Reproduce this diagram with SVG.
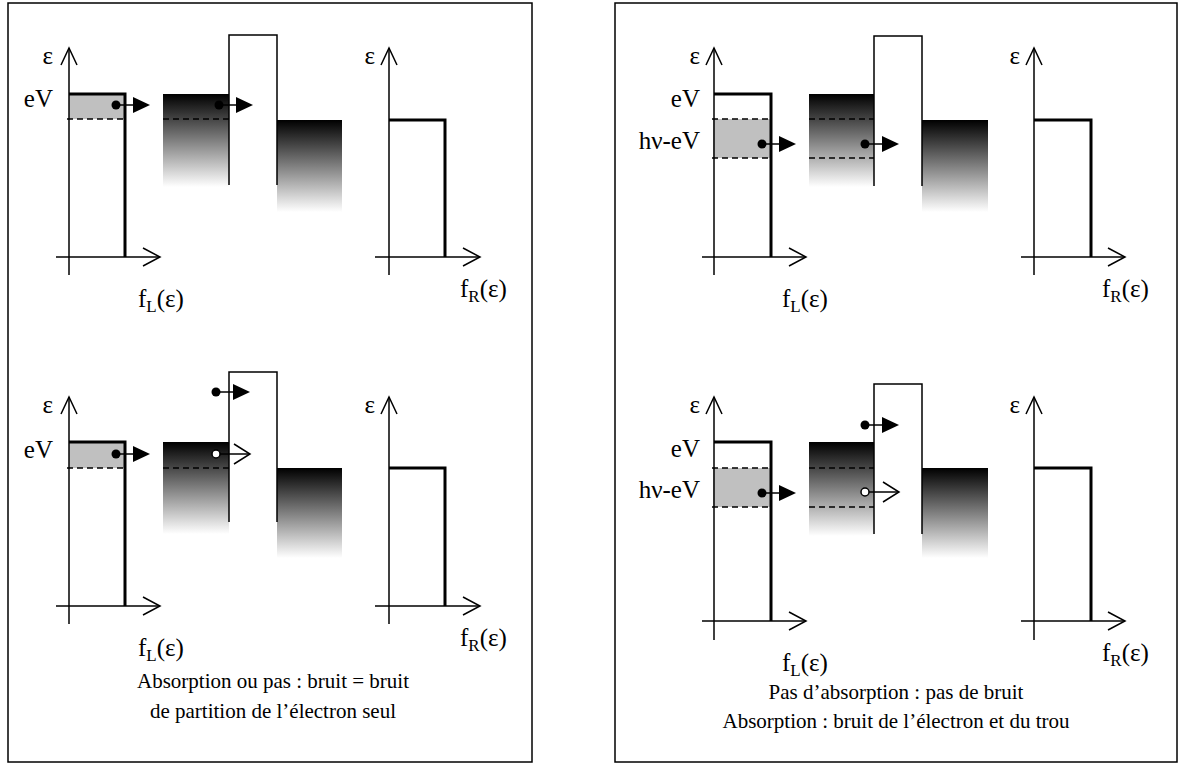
<svg xmlns="http://www.w3.org/2000/svg" xmlns:xlink="http://www.w3.org/1999/xlink" width="1182" height="765" viewBox="0 0 1182 765">
<style>
.ax{stroke:#000;stroke-width:1.5;fill:none}
.fd{stroke:#000;stroke-width:3;fill:none}
.ds{stroke:#000;stroke-width:1.3;stroke-dasharray:6,4;fill:none}
.frame{stroke:#000;stroke-width:1.5;fill:#fff}
.t{font-family:"Liberation Serif","Times New Roman",serif;font-size:25px;fill:#000}
.s{font-size:17px}
.cap{font-family:"Liberation Serif","Times New Roman",serif;font-size:21px;fill:#000;text-anchor:middle}
.r{text-anchor:end}
.sh{fill:#c0c0c0}
</style>
<defs>
<linearGradient id="grad" x1="0" y1="0" x2="0" y2="1">
<stop offset="0" stop-color="#000"/>
<stop offset="1" stop-color="#fff"/>
</linearGradient>
<path id="up" d="M-8,17 L0,0 L8,17" class="ax"/>
<path id="rt" d="M-17,-9 L0,0 L-17,9" class="ax"/>
<g id="eA"><line x1="0" y1="0" x2="18" y2="0" class="ax"/><circle r="4.5" fill="#000"/><polygon points="17,-8 34,0 17,8" fill="#000"/></g>
<g id="hA"><line x1="0" y1="0" x2="34" y2="0" class="ax"/><path d="M18,-10 L34,0 L18,10" class="ax"/><circle r="4" fill="#fff" stroke="#000" stroke-width="1.5"/></g>
</defs>
<rect width="1182" height="765" fill="#fff"/>
<g id="panel-left"><rect class="frame" x="8" y="3" width="524" height="759"/></g>
<g id="panel-right"><rect class="frame" x="615" y="3" width="562" height="759"/></g>

<!-- TOP LEFT -->
<g id="tl-fL">
<rect class="sh" x="69" y="94" width="56" height="25"/>
<line class="ax" x1="69" y1="48" x2="69" y2="275"/><use href="#up" x="69" y="48"/>
<line class="ax" x1="56" y1="257" x2="160" y2="257"/><use href="#rt" x="160" y="257"/>
<path class="fd" d="M69,94 H125 V257"/>
<line class="ds" x1="67" y1="119" x2="125" y2="119"/>
<text class="t r" x="53" y="64">ε</text>
<text class="t r" x="53" y="107">eV</text>
<text class="t" x="138" y="307">f<tspan class="s" dy="5">L</tspan><tspan dy="-5">(ε)</tspan></text>
</g>
<g id="tl-junction">
<rect x="163" y="94" width="66" height="93" fill="url(#grad)"/>
<rect x="277" y="120" width="65" height="92" fill="url(#grad)"/>
<line class="ds" x1="163" y1="119" x2="229" y2="119"/>
<path class="ax" d="M229,185 V35 H277 V185"/>
</g>
<g id="tl-fR">
<line class="ax" x1="389" y1="48" x2="389" y2="275"/><use href="#up" x="389" y="48"/>
<line class="ax" x1="375" y1="257" x2="480" y2="257"/><use href="#rt" x="480" y="257"/>
<path class="fd" d="M389,120 H445 V257"/>
<text class="t r" x="375" y="64">ε</text>
<text class="t" x="460" y="297">f<tspan class="s" dy="5">R</tspan><tspan dy="-5">(ε)</tspan></text>
</g>

<!-- BOTTOM LEFT -->
<g id="bl-fL">
<rect class="sh" x="69" y="442" width="56" height="26"/>
<line class="ax" x1="69" y1="397" x2="69" y2="624"/><use href="#up" x="69" y="397"/>
<line class="ax" x1="56" y1="606" x2="160" y2="606"/><use href="#rt" x="160" y="606"/>
<path class="fd" d="M69,442 H125 V606"/>
<line class="ds" x1="67" y1="468" x2="125" y2="468"/>
<text class="t r" x="53" y="413">ε</text>
<text class="t r" x="53" y="458">eV</text>
<text class="t" x="138" y="656">f<tspan class="s" dy="5">L</tspan><tspan dy="-5">(ε)</tspan></text>
</g>
<g id="bl-junction">
<rect x="163" y="442" width="66" height="92" fill="url(#grad)"/>
<rect x="277" y="468" width="65" height="90" fill="url(#grad)"/>
<line class="ds" x1="163" y1="468" x2="229" y2="468"/>
<path class="ax" d="M229,522 V372 H277 V522"/>
</g>
<g id="bl-fR">
<line class="ax" x1="389" y1="397" x2="389" y2="624"/><use href="#up" x="389" y="397"/>
<line class="ax" x1="375" y1="606" x2="480" y2="606"/><use href="#rt" x="480" y="606"/>
<path class="fd" d="M389,468 H445 V606"/>
<text class="t r" x="375" y="413">ε</text>
<text class="t" x="460" y="646">f<tspan class="s" dy="5">R</tspan><tspan dy="-5">(ε)</tspan></text>
</g>

<!-- TOP RIGHT -->
<g id="tr-fL">
<rect class="sh" x="713" y="119" width="58" height="39"/>
<line class="ax" x1="714" y1="48" x2="714" y2="275"/><use href="#up" x="714" y="48"/>
<line class="ax" x1="702" y1="257" x2="806" y2="257"/><use href="#rt" x="806" y="257"/>
<path class="fd" d="M714,94 H771 V257"/>
<line class="ds" x1="712" y1="119" x2="771" y2="119"/>
<line class="ds" x1="712" y1="158" x2="771" y2="158"/>
<text class="t r" x="700" y="64">ε</text>
<text class="t r" x="700" y="107">eV</text>
<text class="t r" x="700" y="149">hν-eV</text>
<text class="t" x="782" y="307">f<tspan class="s" dy="5">L</tspan><tspan dy="-5">(ε)</tspan></text>
</g>
<g id="tr-junction">
<rect x="809" y="94" width="65" height="93" fill="url(#grad)"/>
<rect x="922" y="120" width="66" height="92" fill="url(#grad)"/>
<line class="ds" x1="809" y1="119" x2="874" y2="119"/>
<line class="ds" x1="809" y1="158" x2="874" y2="158"/>
<path class="ax" d="M874,186 V36 H922 V186"/>
</g>
<g id="tr-fR">
<line class="ax" x1="1034" y1="48" x2="1034" y2="275"/><use href="#up" x="1034" y="48"/>
<line class="ax" x1="1021" y1="257" x2="1125" y2="257"/><use href="#rt" x="1125" y="257"/>
<path class="fd" d="M1034,120 H1091 V257"/>
<text class="t r" x="1020" y="64">ε</text>
<text class="t" x="1102" y="297">f<tspan class="s" dy="5">R</tspan><tspan dy="-5">(ε)</tspan></text>
</g>

<!-- BOTTOM RIGHT -->
<g id="br-fL">
<rect class="sh" x="713" y="468" width="58" height="39"/>
<line class="ax" x1="714" y1="397" x2="714" y2="640"/><use href="#up" x="714" y="397"/>
<line class="ax" x1="702" y1="621" x2="806" y2="621"/><use href="#rt" x="806" y="621"/>
<path class="fd" d="M714,442 H771 V621"/>
<line class="ds" x1="712" y1="468" x2="771" y2="468"/>
<line class="ds" x1="712" y1="507" x2="771" y2="507"/>
<text class="t r" x="700" y="413">ε</text>
<text class="t r" x="700" y="457">eV</text>
<text class="t r" x="700" y="498">hν-eV</text>
<text class="t" x="782" y="671">f<tspan class="s" dy="5">L</tspan><tspan dy="-5">(ε)</tspan></text>
</g>
<g id="br-junction">
<rect x="809" y="442" width="65" height="94" fill="url(#grad)"/>
<rect x="922" y="468" width="66" height="90" fill="url(#grad)"/>
<line class="ds" x1="809" y1="468" x2="874" y2="468"/>
<line class="ds" x1="809" y1="507" x2="874" y2="507"/>
<path class="ax" d="M874,534 V384 H922 V534"/>
</g>
<g id="br-fR">
<line class="ax" x1="1034" y1="397" x2="1034" y2="640"/><use href="#up" x="1034" y="397"/>
<line class="ax" x1="1021" y1="621" x2="1125" y2="621"/><use href="#rt" x="1125" y="621"/>
<path class="fd" d="M1034,468 H1091 V621"/>
<text class="t r" x="1020" y="413">ε</text>
<text class="t" x="1102" y="661">f<tspan class="s" dy="5">R</tspan><tspan dy="-5">(ε)</tspan></text>
</g>

<g id="connectors">
<use href="#eA" x="116" y="105"/>
<use href="#eA" x="219" y="105"/>
<use href="#eA" x="116" y="454"/>
<use href="#eA" x="216" y="392"/>
<use href="#hA" x="216" y="454"/>
<use href="#eA" x="762" y="144"/>
<use href="#eA" x="865" y="144"/>
<use href="#eA" x="762" y="493"/>
<use href="#eA" x="865" y="425"/>
<use href="#hA" x="865" y="492"/>
</g>

<g id="captions">
<text class="cap" x="273" y="688">Absorption ou pas : bruit = bruit</text>
<text class="cap" x="273" y="718">de partition de l’électron seul</text>
<text class="cap" x="896" y="699">Pas d’absorption : pas de bruit</text>
<text class="cap" x="896" y="728">Absorption : bruit de l’électron et du trou</text>
</g>
</svg>
